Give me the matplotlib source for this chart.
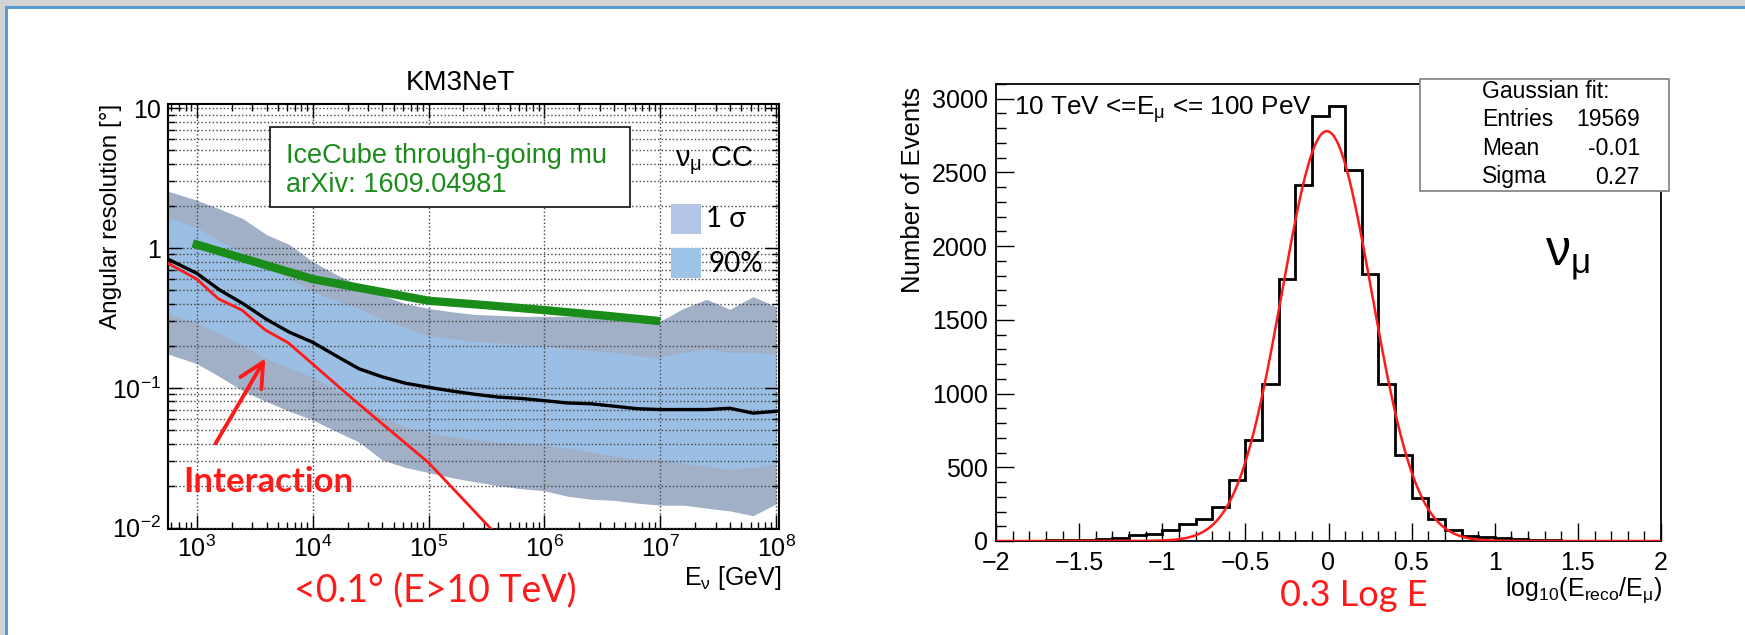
import matplotlib
matplotlib.use("Agg")
import matplotlib.pyplot as plt
from matplotlib.patches import Rectangle
from matplotlib.ticker import FixedLocator, FixedFormatter, NullFormatter
import numpy as np

W, H = 1745, 635

plt.rcParams['font.family'] = ['Liberation Sans', 'DejaVu Sans']
plt.rcParams['mathtext.fontset'] = 'custom'
plt.rcParams['mathtext.rm'] = 'Liberation Sans'
plt.rcParams['mathtext.it'] = 'Liberation Sans:italic'
plt.rcParams['mathtext.default'] = 'regular'

# ---- left: KM3NeT angular resolution vs neutrino energy (log10 E/GeV)
log_e = [2.75, 3.0, 3.2, 3.4, 3.6, 3.8, 4.0, 4.2, 4.4, 4.6, 4.8, 5.0, 5.2, 5.4,
         5.6, 5.8, 6.0, 6.2, 6.4, 6.6, 6.8, 7.0, 7.2, 7.4, 7.6, 7.8, 8.0]
median = [0.835, 0.66, 0.50, 0.40, 0.31, 0.25, 0.212, 0.17, 0.137, 0.12, 0.108, 0.101,
          0.095, 0.09, 0.086, 0.084, 0.081, 0.078, 0.077, 0.074, 0.071, 0.070, 0.070,
          0.070, 0.0715, 0.066, 0.068]
inner_hi = [1.65, 1.40, 1.12, 0.93, 0.75, 0.60, 0.49, 0.42, 0.37, 0.31, 0.27, 0.235,
            0.225, 0.215, 0.21, 0.205, 0.20, 0.19, 0.185, 0.18, 0.17, 0.165, 0.18,
            0.19, 0.18, 0.18, 0.175]
inner_lo = [0.34, 0.29, 0.245, 0.20, 0.162, 0.138, 0.119, 0.097, 0.080, 0.062, 0.053,
            0.0474, 0.045, 0.043, 0.041, 0.040, 0.039, 0.037, 0.035, 0.0325, 0.031,
            0.0308, 0.029, 0.0275, 0.0262, 0.027, 0.0284]
outer_hi = [2.55, 2.2, 1.9, 1.62, 1.25, 1.06, 0.80, 0.65, 0.54, 0.46, 0.40, 0.37, 0.35,
            0.335, 0.33, 0.325, 0.325, 0.325, 0.32, 0.32, 0.31, 0.30, 0.37, 0.43,
            0.365, 0.45, 0.38]
outer_lo = [0.175, 0.149, 0.12, 0.095, 0.080, 0.068, 0.059, 0.049, 0.041, 0.0305,
            0.027, 0.0248, 0.0228, 0.0213, 0.020, 0.019, 0.0184, 0.0168, 0.016,
            0.0157, 0.015, 0.0145, 0.0145, 0.0138, 0.0132, 0.0122, 0.0148]

interaction_log_e = [2.75, 3.0, 3.185, 3.39, 3.59, 3.79, 4.36, 5.0, 5.53, 5.6]
interaction_res = [0.78, 0.60, 0.434, 0.36, 0.26, 0.21, 0.0815, 0.0292, 0.01, 0.0085]

icecube_log_e = [2.966, 4.0, 5.0, 5.5, 6.0, 6.5, 7.0]
icecube_res = [1.08, 0.60, 0.42, 0.39, 0.36, 0.33, 0.30]

# ---- right: energy resolution histogram
hist_edges = np.round(np.arange(-2.0, 2.05, 0.1), 2)
hist_counts = [2, 2, 3, 4, 6, 10, 14, 20, 40, 50, 75, 118, 150, 234, 414, 686, 1064,
               1780, 2414, 2882, 2950, 2518, 1814, 1064, 586, 289, 152, 73, 32, 27, 18,
               11, 7, 4, 3, 2, 2, 1, 1, 1]
fit_amp, fit_mean, fit_sigma = 2780, -0.01, 0.27
x_ticks = [-2, -1.5, -1, -0.5, 0, 0.5, 1, 1.5, 2]
x_tick_labels = ['−2', '−1.5', '−1', '−0.5', '0', '0.5', '1', '1.5', '2']
y_ticks = [0, 500, 1000, 1500, 2000, 2500, 3000]

RED = '#ff1a1a'
GREEN = '#1a8c1a'


def fxy(x, y):
    return x / W, 1 - y / H


def add_box(x0, y0, x1, y1, **kw):
    fig.add_artist(Rectangle(fxy(x0, y1), (x1 - x0) / W, (y1 - y0) / H,
                             transform=fig.transFigure, **kw))


fig = plt.figure(figsize=(W / 100, H / 100), dpi=100)

# page decoration (slide frame)
add_box(0, 0, W, 6, color='#d3d3d3', lw=0)
add_box(0, 0, 5, H, color='#d3d3d3', lw=0)
add_box(5, 6, W, 9, color='#5b9bd5', lw=0)
add_box(5, 6, 8, H, color='#5b9bd5', lw=0)

# ================= left panel =================
ax1 = fig.add_axes([168 / W, 1 - 529 / H, (779 - 168) / W, (529 - 104) / H])
e = 10.0 ** np.array(log_e)
ax1.fill_between(e, outer_lo, outer_hi, color='#a1b0c7', lw=0, zorder=1)
ax1.fill_between(e, inner_lo, inner_hi, color='#9bbee4', lw=0, zorder=1.2)
ax1.plot(e, median, color='black', lw=2.4, zorder=4)
ax1.plot(10.0 ** np.array(interaction_log_e), interaction_res, color=RED, lw=2, zorder=4)
ax1.plot(10.0 ** np.array(icecube_log_e), icecube_res, color=GREEN, lw=6, zorder=5,
         solid_capstyle='butt')
ax1.set_xscale('log')
ax1.set_yscale('log')
ax1.set_xlim(10 ** 2.752, 10 ** 8.024)
ax1.set_ylim(10 ** -2.009, 10 ** 1.03)
ax1.xaxis.set_major_locator(FixedLocator([1e3, 1e4, 1e5, 1e6, 1e7, 1e8]))
ax1.xaxis.set_major_formatter(FixedFormatter(['$10^{3}$', '$10^{4}$', '$10^{5}$',
                                              '$10^{6}$', '$10^{7}$', '$10^{8}$']))
ax1.yaxis.set_major_locator(FixedLocator([0.01, 0.1, 1, 10]))
ax1.yaxis.set_major_formatter(FixedFormatter(['$10^{-2}$', '$10^{-1}$', '1', '10']))
minor_x = [m * 10 ** k for k in range(2, 9) for m in range(2, 10)]
minor_y = [m * 10 ** k for k in range(-3, 2) for m in range(2, 10)]
ax1.xaxis.set_minor_locator(FixedLocator(minor_x))
ax1.yaxis.set_minor_locator(FixedLocator(minor_y))
ax1.xaxis.set_minor_formatter(NullFormatter())
ax1.yaxis.set_minor_formatter(NullFormatter())
ax1.set_axisbelow(False)
ax1.grid(True, which='major', axis='x', ls=':', color='#444444', lw=1)
ax1.grid(True, which='both', axis='y', ls=':', color='#444444', lw=1)
ax1.tick_params(which='both', direction='in', top=True, right=True, labelsize=18, width=1)
ax1.tick_params(which='major', length=10)
ax1.tick_params(which='minor', length=5)
ax1.tick_params(axis='x', pad=5)
ax1.tick_params(axis='y', pad=5)
for s in ax1.spines.values():
    s.set_linewidth(1.5)

ax1.annotate('', xy=(10 ** 3.604, 0.169), xytext=(10 ** 3.151, 0.0386),
             arrowprops=dict(arrowstyle='->,head_width=0.35,head_length=0.7',
                             color=RED, lw=2.8, mutation_scale=25), zorder=6)

fig.text(*fxy(460, 83), 'KM3NeT', ha='center', va='center', size=20)
fig.text(*fxy(111, 216), 'Angular resolution [°]', rotation=90, ha='center',
         va='center', size=17.5)
fig.text(*fxy(781, 578), r'E$_{ν}$ [GeV]', ha='right', va='center', size=18)

add_box(270, 127, 630, 207, facecolor='white', edgecolor='#222222', lw=1.3, zorder=3)
fig.text(*fxy(286, 156), 'IceCube through-going mu', color=GREEN, ha='left',
         va='center', size=19.5, zorder=4)
fig.text(*fxy(286, 185), 'arXiv: 1609.04981', color=GREEN, ha='left', va='center',
         size=19.5, zorder=4)

fig.text(*fxy(675, 161), r'$ν_{μ}$ CC', ha='left', va='center', size=21, zorder=4)
add_box(671, 204, 701, 234, color='#b4c6e7', lw=0, zorder=3)
add_box(671, 248, 701, 278, color='#9dc3e6', lw=0, zorder=3)
fig.text(*fxy(706, 219), '1 σ', family=['Lato', 'DejaVu Sans'], ha='left',
         va='center', size=20, zorder=4)
fig.text(*fxy(708, 264), '90%', family=['Lato', 'DejaVu Sans'], ha='left',
         va='center', size=20, zorder=4)

fig.text(*fxy(183, 482), 'Interaction', family=['Lato', 'DejaVu Sans'],
         weight='bold', color=RED, ha='left', va='center', size=25)
fig.text(*fxy(435, 590), '<0.1° (E>10 TeV)', family=['Lato', 'DejaVu Sans'],
         color=RED, ha='center', va='center', size=27)

# ================= right panel =================
ax2 = fig.add_axes([996 / W, 1 - 541 / H, 665 / W, 457 / H])
ax2.stairs(hist_counts, hist_edges, color='black', lw=2, zorder=3)
xf = np.linspace(-2, 2, 801)
ax2.plot(xf, fit_amp * np.exp(-0.5 * ((xf - fit_mean) / fit_sigma) ** 2),
         color=RED, lw=1.8, zorder=4)
ax2.set_xlim(-2, 2)
ax2.set_ylim(0, 3100)
ax2.xaxis.set_major_locator(FixedLocator(x_ticks))
ax2.xaxis.set_major_formatter(FixedFormatter(x_tick_labels))
ax2.xaxis.set_minor_locator(FixedLocator(np.round(np.arange(-2, 2.01, 0.1), 2)))
ax2.yaxis.set_major_locator(FixedLocator(y_ticks))
ax2.yaxis.set_major_formatter(FixedFormatter([str(v) for v in y_ticks]))
ax2.yaxis.set_minor_locator(FixedLocator(np.arange(0, 3101, 100)))
ax2.tick_params(which='both', direction='in', labelsize=18, width=1)
ax2.tick_params(which='major', length=13)
ax2.tick_params(which='minor', length=7)
ax2.tick_params(axis='x', pad=7.5)
ax2.tick_params(axis='y', pad=6)
for s in ax2.spines.values():
    s.set_linewidth(1.3)

fig.text(*fxy(913, 190), 'Number of Events', rotation=90, ha='center', va='center',
         size=18.5)
fig.text(*fxy(1662, 590), r'log$_{10}$(E$_{reco}$/E$_{μ}$)', ha='right', va='center',
         size=18)
fig.text(*fxy(1014, 110), r'10 TeV <=E$_{μ}$ <= 100 PeV', ha='left', va='center',
         size=18.8)
fig.text(*fxy(1545, 259), r'$\nu_{\mu}$', math_fontfamily='stix', ha='left',
         va='center', size=36)

add_box(1420, 79, 1669, 191, facecolor='white', edgecolor='#888888', lw=1.3, zorder=3)
stats_rows = [('Entries', '19569'), ('Mean', '-0.01'), ('Sigma', '0.27')]
fig.text(*fxy(1482, 92), 'Gaussian fit:', ha='left', va='center', size=16.5, zorder=4)
for i, (lab, val) in enumerate(stats_rows):
    y = 120 + 28.5 * i
    fig.text(*fxy(1482, y), lab, ha='left', va='center', size=16.5, zorder=4)
    fig.text(*fxy(1640, y), val, ha='right', va='center', size=16.5, zorder=4)

fig.text(*fxy(1354, 596), '0.3 Log E', family=['Lato', 'DejaVu Sans'], color=RED,
         ha='center', va='center', size=26)

fig.savefig('out.png', dpi=100)
